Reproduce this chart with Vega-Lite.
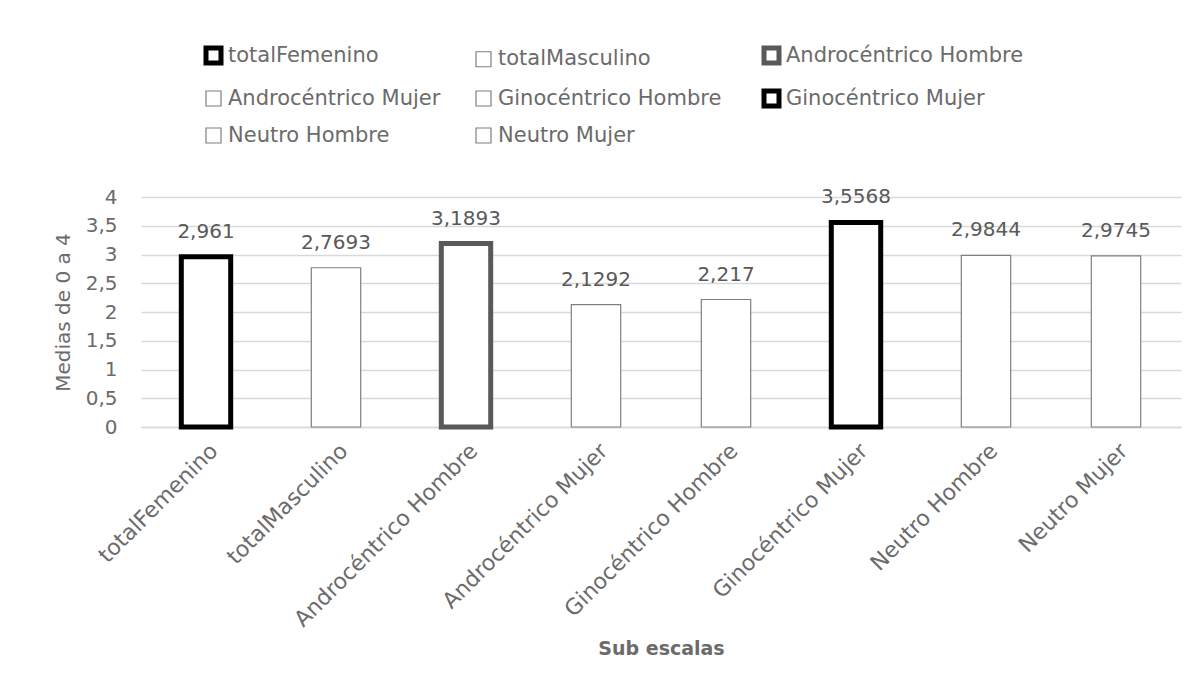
{
  "$schema": "https://vega.github.io/schema/vega-lite/v6.json",
  "width": 1040,
  "height": 230,
  "autosize": {"type": "none"},
  "padding": {"left": 141, "top": 197, "right": 16, "bottom": 271},
  "background": "white",
  "config": {
    "locale": {"number": {"decimal": ",", "thousands": ".", "grouping": [3], "currency": ["", " €"]}},
    "view": {"stroke": null},
    "font": "DejaVu Sans"
  },
  "data": {
    "values": [
      {"cat": "totalFemenino", "v": 2.961},
      {"cat": "totalMasculino", "v": 2.7693},
      {"cat": "Androcéntrico Hombre", "v": 3.1893},
      {"cat": "Androcéntrico Mujer", "v": 2.1292},
      {"cat": "Ginocéntrico Hombre", "v": 2.217},
      {"cat": "Ginocéntrico Mujer", "v": 3.5568},
      {"cat": "Neutro Hombre", "v": 2.9844},
      {"cat": "Neutro Mujer", "v": 2.9745}
    ]
  },
  "encoding": {
    "x": {
      "field": "cat", "type": "nominal", "sort": null,
      "scale": {"paddingInner": 0.62, "paddingOuter": 0.31},
      "axis": {
        "title": "Sub escalas", "titleFont": "DejaVu Sans", "titleFontSize": 19, "titleFontWeight": "bold",
        "titleColor": "#6b6b6b", "titlePadding": 12,
        "labelAngle": -45, "labelAlign": "right", "labelBaseline": "middle",
        "labelFontSize": 22, "labelColor": "#6b6b6b", "labelPadding": 20, "labelOffset": 8,
        "labelLimit": 400,
        "ticks": false, "domainColor": "#d9d9d9", "domainWidth": 1.5
      }
    },
    "y": {
      "field": "v", "type": "quantitative",
      "scale": {"domain": [0, 4]},
      "axis": {
        "title": "Medias de 0 a 4", "titleFont": "DejaVu Sans", "titleFontSize": 20, "titleFontWeight": "normal",
        "titleColor": "#6b6b6b", "titlePadding": 12,
        "values": [0, 0.5, 1, 1.5, 2, 2.5, 3, 3.5, 4], "format": "~g",
        "labelFontSize": 20, "labelColor": "#6b6b6b", "labelPadding": 24,
        "ticks": false, "domain": false, "gridColor": "#d9d9d9", "gridWidth": 1.3
      }
    }
  },
  "layer": [
    {
      "mark": {"type": "bar", "fill": "white"},
      "encoding": {
        "stroke": {
          "field": "cat", "type": "nominal", "sort": null,
          "scale": {
            "domain": ["totalFemenino", "totalMasculino", "Androcéntrico Hombre", "Androcéntrico Mujer", "Ginocéntrico Hombre", "Ginocéntrico Mujer", "Neutro Hombre", "Neutro Mujer"],
            "range": ["#000000", "#7f7f7f", "#595959", "#7f7f7f", "#7f7f7f", "#000000", "#7f7f7f", "#7f7f7f"]
          },
          "legend": {
            "orient": "none", "direction": "horizontal", "legendX": 62, "legendY": -152, "columns": 3, "columnPadding": 32, "rowPadding": 8,
            "symbolType": "square", "symbolSize": 225, "symbolFillColor": "white",
            "labelFontSize": 21, "labelColor": "#6b6b6b", "labelOffset": 4, "labelLimit": 400, "title": null
          }
        },
        "strokeWidth": {
          "field": "cat", "type": "nominal", "sort": null,
          "scale": {
            "type": "ordinal",
            "domain": ["totalFemenino", "totalMasculino", "Androcéntrico Hombre", "Androcéntrico Mujer", "Ginocéntrico Hombre", "Ginocéntrico Mujer", "Neutro Hombre", "Neutro Mujer"],
            "range": [5, 1.2, 5, 1.2, 1.2, 5, 1.2, 1.2]
          },
          "legend": {
            "orient": "none", "direction": "horizontal", "legendX": 62, "legendY": -152, "columns": 3, "columnPadding": 32, "rowPadding": 8,
            "symbolType": "square", "symbolSize": 225, "symbolFillColor": "white",
            "labelFontSize": 21, "labelColor": "#6b6b6b", "labelOffset": 4, "labelLimit": 400, "title": null
          }
        }
      }
    },
    {
      "mark": {"type": "text", "baseline": "alphabetic", "dy": -19, "fontSize": 20, "color": "#595959"},
      "encoding": {
        "text": {"field": "v", "type": "quantitative", "format": "~g"}
      }
    }
  ]
}
